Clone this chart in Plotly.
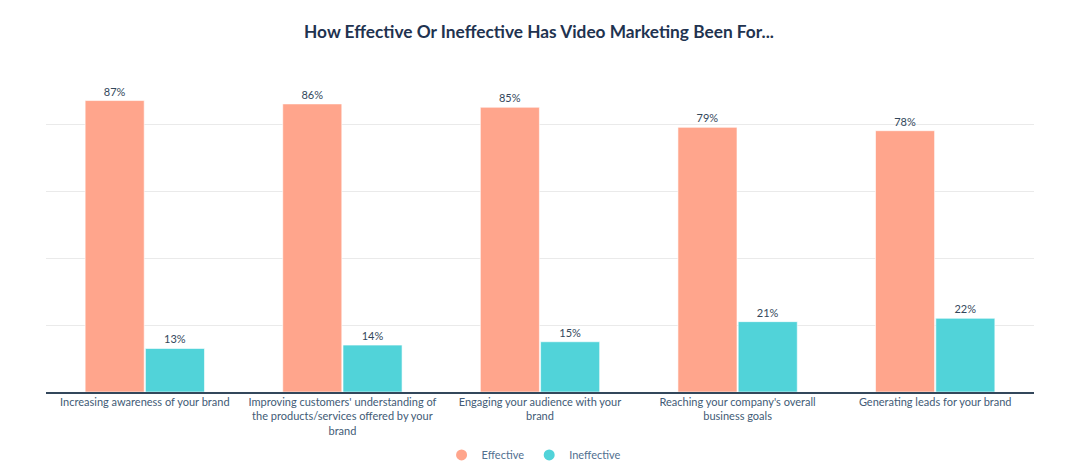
import plotly.graph_objects as go

categories = [
    "Increasing awareness of your brand",
    "Improving customers' understanding of<br>the products/services offered by your<br>brand",
    "Engaging your audience with your<br>brand",
    "Reaching your company's overall<br>business goals",
    "Generating leads for your brand",
]
effective = [87, 86, 85, 79, 78]
ineffective = [13, 14, 15, 21, 22]
series_names = ["Effective", "Ineffective"]
title_text = "<b>How Effective Or Ineffective Has Video Marketing Been For...</b>"

colors = ["#FFA58C", "#51D3D9"]
text_color = "#33475B"

fig = go.Figure()
for name, vals, col in zip(series_names, [effective, ineffective], colors):
    fig.add_trace(go.Bar(
        name=name, x=categories, y=vals,
        marker=dict(color=col, line=dict(color="rgba(255,255,255,0.6)", width=1)),
        text=[f"{v}%" for v in vals], textposition="outside",
        textfont=dict(family="Lato", size=11, color=text_color),
        cliponaxis=False, hoverinfo="skip", showlegend=False,
    ))
# legend entries with circle markers
for name, col in zip(series_names, colors):
    fig.add_trace(go.Scatter(
        name=name, x=[None], y=[None], mode="markers",
        marker=dict(color=col, size=11, symbol="circle"), hoverinfo="skip",
    ))

fig.update_layout(
    width=1072, height=467,
    paper_bgcolor="white", plot_bgcolor="white",
    margin=dict(l=38, r=46, t=48, b=83),
    barmode="group", bargap=0.39, bargroupgap=0.02,
    title=dict(text=title_text, x=0.4953, xanchor="center", y=0.949, yanchor="middle",
               font=dict(family="Lato", size=17.3, color="#1F3350")),
    font=dict(family="Lato", size=11, color=text_color),
    legend=dict(orientation="h", x=0.494, xanchor="center",
                yref="container", y=0.043, yanchor="middle",
                font=dict(family="Lato", size=11, color="#516F90"), itemwidth=30),
    showlegend=True,
)
fig.update_xaxes(showline=True, linecolor="#33475B", linewidth=1.5, ticks="",
                 automargin=False, ticklabelstandoff=-1,
                 tickfont=dict(family="Lato", size=11, color="#425B76"))
fig.update_yaxes(range=[0, 100.3], dtick=20, showticklabels=False, showgrid=True,
                 automargin=False,
                 gridcolor="#EAEAEA", gridwidth=1, zeroline=False)

fig.write_html("out.html")
